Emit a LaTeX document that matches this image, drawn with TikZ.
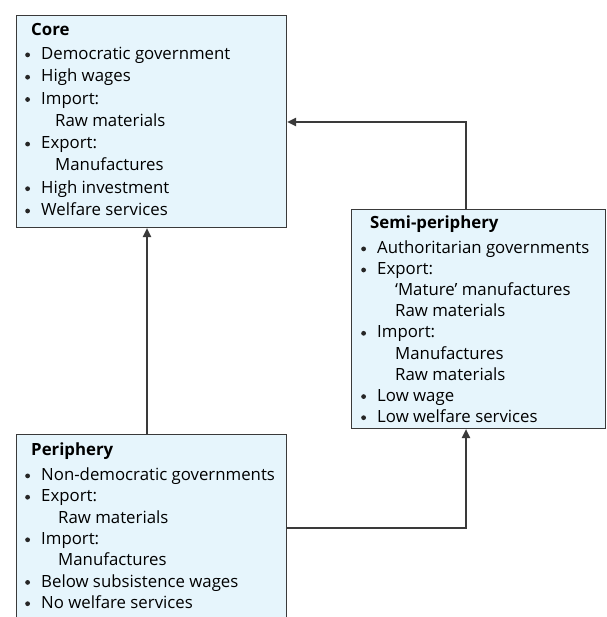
\documentclass[tikz,border=0pt]{standalone}
\usepackage{fontspec}
\setmainfont{Open Sans}
\usetikzlibrary{arrows.meta}
\definecolor{boxfill}{HTML}{E6F5FC}
\definecolor{boxline}{HTML}{3A3A3A}
\newcommand\dotmark{\tikz[baseline=0pt]\fill[black!85] (0pt,4.6pt) circle (2.4pt);}
\newcommand\itm[1]{\makebox[17pt][l]{\hspace*{1pt}\dotmark}#1\par}
\newcommand\sbl[2][14pt]{\hspace*{17pt}\hspace*{#1}#2\par}
\newcommand\blist[2]{\vtop{\hsize=260pt\parindent=0pt\lineskiplimit=-40pt\lineskip=0pt\baselineskip=#1 #2}}
\tikzset{
  panel/.style={draw=boxline, fill=boxfill, line width=1.2pt, rectangle, inner sep=0pt, anchor=north west},
  ttl/.style={anchor=base west, inner sep=0pt, font=\fontsize{16.8}{20}\selectfont\bfseries},
  lst/.style={anchor=base west, inner sep=0pt, font=\fontsize{16.8}{20}\selectfont},
  arr/.style={draw=boxline, line width=1.1pt, -{Triangle[length=9pt,width=8.5pt]}}
}
\begin{document}
\begin{tikzpicture}[x=1pt,y=-1pt]
\useasboundingbox (0,0) rectangle (606,617);
% boxes
\node[panel, minimum width=270pt, minimum height=212pt] (core) at (16,15) {};
\node[panel, minimum width=254pt, minimum height=219pt] (semi) at (351,209) {};
\node[panel, minimum width=270pt, minimum height=200pt] (peri) at (16,434) {};
% core text
\node[ttl] (coret) at (31,35.5) {Core};
\node[lst] (corel) at (24,59.5) {\blist{22.3pt}{%
\itm{Democratic government}
\itm{High wages}
\itm{Import:}
\sbl{Raw materials}
\itm{Export:}
\sbl{Manufactures}
\itm{High investment}
\itm{Welfare services}}};
% semi text
\node[ttl] (semit) at (370,229) {Semi-periphery};
\node[lst] (semil) at (360,253.5) {\blist{21.1pt}{%
\itm{Authoritarian governments}
\itm{Export:}
\sbl[18pt]{‘Mature’ manufactures}
\sbl[18pt]{Raw materials}
\itm{Import:}
\sbl[18pt]{Manufactures}
\sbl[18pt]{Raw materials}
\itm{Low wage}
\itm{Low welfare services}}};
% periphery text
\node[ttl] (perit) at (31,455.5) {Periphery};
\node[lst] (peril) at (24,480.5) {\blist{21.3pt}{%
\itm{Non-democratic governments}
\itm{Export:}
\sbl[17pt]{Raw materials}
\itm{Import:}
\sbl[17pt]{Manufactures}
\itm{Below subsistence wages}
\itm{No welfare services}}};
% helper coordinates
\coordinate (xa) at (147,0);
\coordinate (xb) at (466,0);
\coordinate (ya) at (0,122);
\coordinate (yb) at (0,528);
% connectors
\draw[arr] (peri.north -| xa) -- (core.south -| xa);
\draw[arr] (semi.north -| xb) |- (core.east |- ya);
\draw[arr] (peri.east |- yb) -| (semi.south -| xb);
\end{tikzpicture}
\end{document}
